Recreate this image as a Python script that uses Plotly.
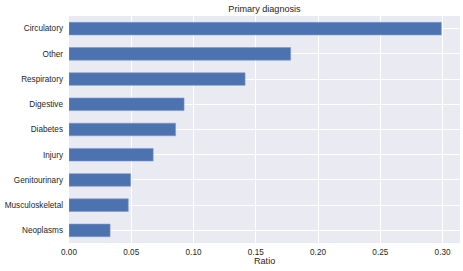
import plotly.graph_objects as go

categories = ["Neoplasms", "Musculoskeletal", "Genitourinary", "Injury", "Diabetes",
              "Digestive", "Respiratory", "Other", "Circulatory"]
ratios = [0.033, 0.0476, 0.0495, 0.0676, 0.0856, 0.0924, 0.1414, 0.178, 0.299]
x_ticks = [0.0, 0.05, 0.10, 0.15, 0.20, 0.25, 0.30]
x_tick_labels = ["0.00", "0.05", "0.10", "0.15", "0.20", "0.25", "0.30"]

font_family = "Liberation Sans, Arial, DejaVu Sans, sans-serif"
text_color = "#262626"

fig = go.Figure(go.Bar(
    x=ratios, y=categories, orientation="h", width=0.5,
    marker=dict(color="#4C72B0", line=dict(color="#7f9bcc", width=0.6)),
))

fig.update_layout(
    width=463, height=271,
    margin=dict(l=69, r=3, t=16, b=28),
    paper_bgcolor="white", plot_bgcolor="#EAEAF2",
    showlegend=False,
    font=dict(family=font_family, size=8.2, color=text_color),
    title=dict(text="Primary diagnosis", x=(69 + 460) / 2 / 463, xanchor="center",
               y=1 - 9 / 271, yanchor="middle", yref="container",
               font=dict(size=9.1, color=text_color)),
    xaxis=dict(range=[0, 0.314], tickvals=x_ticks, ticktext=x_tick_labels,
               showgrid=True, gridcolor="white", gridwidth=1, zeroline=False,
               showline=False, ticks="", ticklen=0, tickfont=dict(size=8.2, color=text_color)),
    yaxis=dict(categoryorder="array", categoryarray=categories, range=[-0.5, 8.5],
               showgrid=True, gridcolor="white", gridwidth=1, zeroline=False,
               showline=False, ticks="", ticklen=0, tickfont=dict(size=8.2, color=text_color)),
    annotations=[dict(text="Ratio", x=0.5, xref="paper", y=0, yref="paper",
                      yanchor="middle", yshift=-17.7, showarrow=False,
                      font=dict(size=9.1, color=text_color))],
)
fig.update_yaxes(ticklabelstandoff=5)
fig.update_xaxes(ticklabelstandoff=3)

fig.write_html("out.html")
